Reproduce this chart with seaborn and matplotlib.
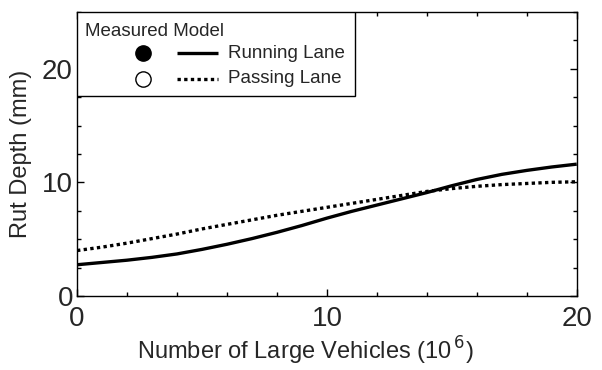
import matplotlib
matplotlib.use("Agg")
import matplotlib.pyplot as plt
from matplotlib.lines import Line2D
from matplotlib.patches import Rectangle
from matplotlib.ticker import MultipleLocator
import numpy as np
import pandas as pd
import seaborn as sns

# Model curves of rut depth (mm) against cumulative large vehicles (10^6)
vehicles = list(range(0, 21))
running_lane = [2.75, 2.95, 3.15, 3.4, 3.7, 4.1, 4.55, 5.05, 5.6, 6.2, 6.85,
                7.45, 8.0, 8.55, 9.1, 9.7, 10.25, 10.7, 11.05, 11.35, 11.6]
passing_lane = [4.0, 4.3, 4.65, 5.05, 5.45, 5.9, 6.3, 6.7, 7.1, 7.45, 7.8,
                8.15, 8.5, 8.85, 9.2, 9.45, 9.65, 9.8, 9.9, 10.0, 10.05]
lane_names = ["Running Lane", "Passing Lane"]

df = pd.DataFrame({
    "vehicles": vehicles * 2,
    "rut": running_lane + passing_lane,
    "lane": [lane_names[0]] * len(vehicles) + [lane_names[1]] * len(vehicles),
})

sns.set_style("ticks")
plt.rcParams["font.family"] = ["Liberation Sans", "DejaVu Sans"]

fig = plt.figure(figsize=(6.02, 3.70), dpi=100)
ax = fig.add_axes([0.128, 0.2, 0.830, 0.768])

sns.lineplot(data=df, x="vehicles", y="rut", style="lane",
             dashes={lane_names[0]: "", lane_names[1]: (1, 1)},
             color="black", linewidth=2.4, legend=False, ax=ax)
for ln in ax.get_lines():
    ln.set_dash_capstyle("butt")
    ln.set_solid_capstyle("butt")

ax.set_xlim(0, 20)
ax.set_ylim(0, 25)
ax.xaxis.set_major_locator(MultipleLocator(10))
ax.xaxis.set_minor_locator(MultipleLocator(2))
ax.yaxis.set_major_locator(MultipleLocator(10))
ax.yaxis.set_minor_locator(MultipleLocator(2.5))
ax.tick_params(which="both", direction="in", top=True, right=True,
               width=1.0, color="black")
ax.tick_params(which="major", length=5, labelsize=20)
ax.tick_params(axis="x", which="major", pad=7)
ax.tick_params(axis="y", which="major", pad=3)
ax.tick_params(which="minor", length=3)
for s in ax.spines.values():
    s.set_linewidth(1.0)
    s.set_color("black")

ax.set_xlabel("Number of Large Vehicles (10$^{\\,6}$)", fontsize=17)
ax.set_ylabel("Rut Depth (mm)", fontsize=17)
ax.xaxis.set_label_coords(0.456, -0.135)
ax.yaxis.set_label_coords(-0.09, 0.5)

# Legend block: measured symbols and model line styles
box = Rectangle((0, 0.703), 0.556, 0.297, transform=ax.transAxes,
                facecolor="white", edgecolor="black", linewidth=1.0, zorder=5)
ax.add_patch(box)
ax.text(0.016, 0.93, "Measured Model", transform=ax.transAxes, fontsize=13.5,
        va="center", ha="left", zorder=6)
ax.add_line(Line2D([0.132], [0.855], transform=ax.transAxes, marker="o",
                   markersize=11, markerfacecolor="black", markeredgecolor="black",
                   linestyle="none", zorder=6))
ax.add_line(Line2D([0.132], [0.765], transform=ax.transAxes, marker="o",
                   markersize=11, markerfacecolor="white", markeredgecolor="black",
                   markeredgewidth=1.0, linestyle="none", zorder=6))
ax.add_line(Line2D([0.2, 0.282], [0.855, 0.855], transform=ax.transAxes,
                   color="black", linewidth=2.4, solid_capstyle="butt", zorder=6))
ax.add_line(Line2D([0.2, 0.282], [0.765, 0.765], transform=ax.transAxes,
                   color="black", linewidth=2.4, dashes=(1, 1),
                   dash_capstyle="butt", zorder=6))
ax.text(0.302, 0.855, lane_names[0], transform=ax.transAxes, fontsize=13.5,
        va="center", ha="left", zorder=6)
ax.text(0.302, 0.765, lane_names[1], transform=ax.transAxes, fontsize=13.5,
        va="center", ha="left", zorder=6)

fig.savefig("out.png", dpi=100)
